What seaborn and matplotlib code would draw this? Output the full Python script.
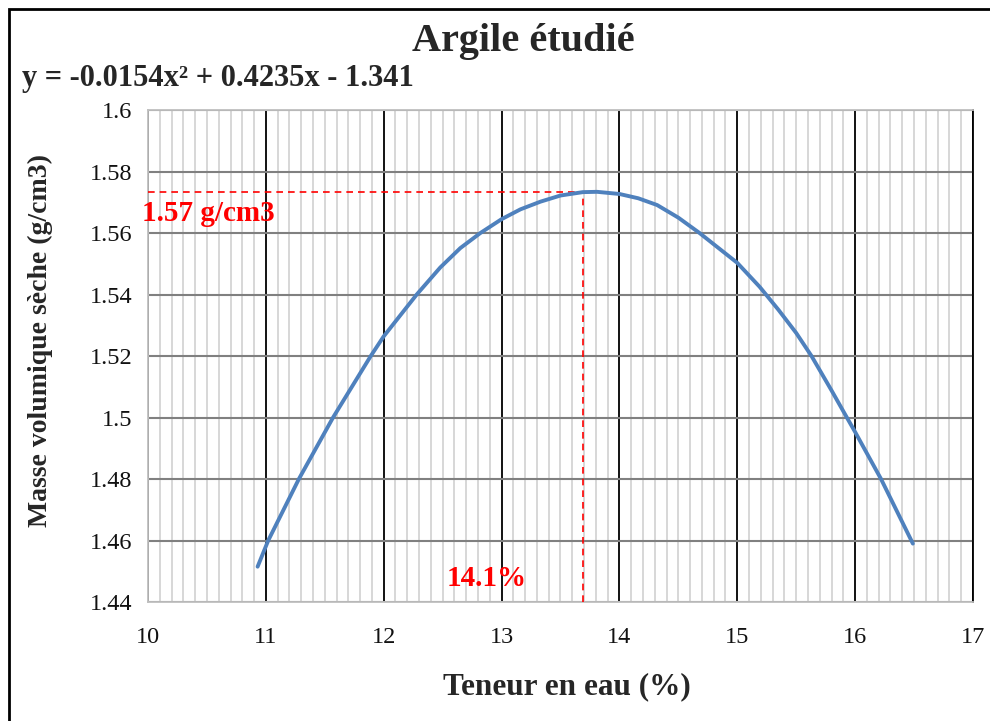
import matplotlib
matplotlib.use("Agg")
import matplotlib.pyplot as plt
from matplotlib.patches import Rectangle
from matplotlib.ticker import MultipleLocator
import pandas as pd
import seaborn as sns

# Compaction curve: water content (%) vs dry density (g/cm3)
water_content = [10.93, 11.02, 11.28, 11.57, 11.89, 12.00, 12.28, 12.48, 12.65, 12.82,
                 13.00, 13.16, 13.33, 13.50, 13.69, 13.81, 14.00, 14.16, 14.32, 14.50,
                 14.68, 15.00, 15.19, 15.35, 15.50, 15.63, 15.80, 15.93, 16.00, 16.22,
                 16.49]
dry_density = [1.4515, 1.460, 1.480, 1.500, 1.520, 1.5264, 1.540, 1.5488, 1.5551, 1.560,
               1.5645, 1.5677, 1.5702, 1.5722, 1.5733, 1.5734, 1.5727, 1.5713, 1.5691, 1.5650,
               1.560, 1.5503, 1.5425, 1.5350, 1.5275, 1.520, 1.5088, 1.500, 1.4953, 1.480,
               1.459]

# Optimum marked by the dashed guides
opt_water = 13.69
opt_density = 1.5734
opt_water_label = "14.1%"
opt_density_label = "1.57 g/cm3"

title = "Argile étudié"
equation = "y = -0.0154x² + 0.4235x - 1.341"
x_label = "Teneur en eau (%)"
y_label = "Masse volumique sèche (g/cm3)"

x_ticks = [10, 11, 12, 13, 14, 15, 16, 17]
y_ticks = [1.44, 1.46, 1.48, 1.5, 1.52, 1.54, 1.56, 1.58, 1.6]
y_tick_labels = ["1.44", "1.46", "1.48", "1.5", "1.52", "1.54", "1.56", "1.58", "1.6"]

sns.set_theme(style="white")
plt.rcParams["font.family"] = ["Liberation Serif", "DejaVu Serif"]

df = pd.DataFrame({"w": water_content, "rho": dry_density})

fig = plt.figure(figsize=(9.9, 7.21), dpi=100)
ax = fig.add_axes([0.1495, 0.1650, 0.8333, 0.6824])

ax.set_xlim(10, 17)
ax.set_ylim(1.44, 1.6)

# grid: light minor verticals, black major verticals, grey horizontals
ax.xaxis.set_major_locator(MultipleLocator(1))
ax.xaxis.set_minor_locator(MultipleLocator(0.1))
ax.set_yticks(y_ticks)
ax.set_yticklabels(y_tick_labels)
ax.set_xticks(x_ticks)
ax.set_xticklabels([str(t) for t in x_ticks])
ax.grid(which="minor", axis="x", color="#d4d4d4", lw=1.3, zorder=0)
ax.grid(which="major", axis="x", color="black", lw=1.3, zorder=1)
ax.grid(which="major", axis="y", color="#808080", lw=1.5, zorder=1)
ax.set_axisbelow(True)
for side in ["left", "bottom", "top"]:
    ax.spines[side].set_color("#bfbfbf")
    ax.spines[side].set_linewidth(1.3)
ax.spines["right"].set_color("black")
ax.spines["right"].set_linewidth(1.3)
ax.tick_params(axis="both", which="both", length=0, labelsize=17.5, colors="#111111")
ax.tick_params(axis="x", pad=18)
ax.tick_params(axis="y", pad=11)

sns.lineplot(data=df, x="w", y="rho", ax=ax, color="#4f81bd", lw=2.8,
             sort=False, estimator=None, zorder=4)

# dashed guides to the optimum
ax.plot([10, opt_water], [opt_density, opt_density], color="#ff0000", lw=1.2,
        ls=(0, (4, 3)), zorder=3)
ax.plot([opt_water, opt_water], [1.44, opt_density], color="#ff0000", lw=1.2,
        ls=(0, (4, 3)), zorder=3)
ax.text(9.95, 1.5665, opt_density_label, color="#ff0000", fontsize=21,
        fontweight="bold", va="center", ha="left", zorder=5)
ax.text(12.53, 1.4478, opt_water_label, color="#ff0000", fontsize=21,
        fontweight="bold", va="center", ha="left", zorder=5)

ax.set_xlabel("")
ax.set_ylabel("")
fig.text(0.573, 0.047, x_label, fontsize=22.5, fontweight="bold", ha="center", va="center")
fig.text(0.0404, 0.528, y_label, fontsize=20, fontweight="bold", ha="center",
         va="center", rotation=90)
fig.text(0.529, 0.943, title, fontsize=29, fontweight="bold", ha="center", va="center")
fig.text(0.0222, 0.891, equation, fontsize=22, fontweight="bold", ha="left", va="center")

# outer frame of the chart area
fig.patches.append(Rectangle((9 / 990, -0.05), 1.2, 1 - 9 / 721 + 0.05,
                             transform=fig.transFigure, fill=False,
                             edgecolor="black", lw=2.0, zorder=10))

fig.savefig("out.png", dpi=100)
